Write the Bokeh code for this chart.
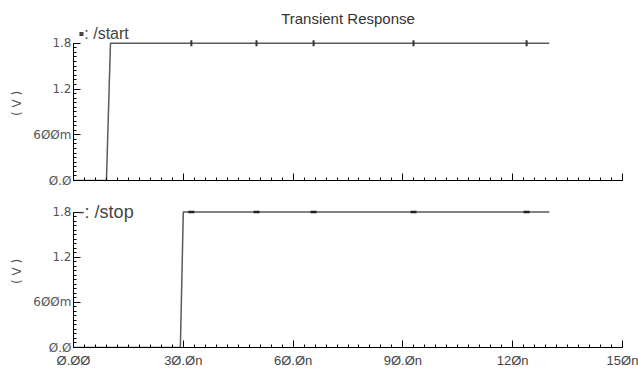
from bokeh.plotting import figure
from bokeh.layouts import column
from bokeh.models import FixedTicker, Label, Range1d, CustomLabelingPolicy
from bokeh.embed import file_html
from bokeh.resources import INLINE

# ---- data (time in ns, voltage in V) ----
t_start = [0.0, 9.0, 10.1, 130.0]
v_start = [0.0, 0.0, 1.8, 1.8]
t_stop = [0.0, 29.2, 30.0, 130.0]
v_stop = [0.0, 0.0, 1.8, 1.8]
marker_t = [32.2, 50.0, 65.6, 92.9, 123.8]
marker_v = [1.8, 1.8, 1.8, 1.8, 1.8]

x_ticks = [0, 30, 60, 90, 120, 150]
x_tick_labels = ["Ø.ØØ", "3Ø.Øn", "6Ø.Øn", "9Ø.Øn", "12Øn", "15Øn"]
y_ticks = [0.0, 0.6, 1.2, 1.8]
y_tick_labels = ["Ø.Ø", "6ØØm", "1.2", "1.8"]

title_text = "Transient Response"
y_label = "( V )"
sig_names = ["▪: /start", "-: /stop"]

LINE = "#5a5a5a"
TXT = "#555555"

HIDE_ALL = CustomLabelingPolicy(code="""
try {
  const n = indices.size;
  for (let i = 0; i < n; i++) { indices.set(i, false); }
} catch (e) {}
return indices;
""")


def style(p, show_xlabels):
    p.outline_line_color = None
    p.xgrid.visible = False
    p.ygrid.visible = False
    xa = p.xaxis[0]
    ya = p.yaxis[0]
    ya.bounds = (0, 1.8)
    xa.ticker = FixedTicker(ticks=x_ticks, minor_ticks=[i * 3 for i in range(51)])
    ya.ticker = FixedTicker(ticks=y_ticks, minor_ticks=[round(i * 0.06, 2) for i in range(31)])
    xa.major_label_overrides = {t: l for t, l in zip(x_ticks, x_tick_labels)}
    ya.major_label_overrides = {t: l for t, l in zip(y_ticks, y_tick_labels)}
    for a in (xa, ya):
        a.major_tick_in = 7
        a.major_tick_out = 0
        a.minor_tick_in = 3
        a.minor_tick_out = 0
    xa.major_label_text_font = "Liberation Sans"
    if show_xlabels:
        xa.major_label_text_font_size = "13px"
        xa.major_label_text_color = "#444444"
        xa.major_label_standoff = 5
    else:
        xa.major_label_text_font_size = "1px"
        xa.major_label_standoff = 0
        xa.major_label_policy = HIDE_ALL
    ya.major_label_text_font = "DejaVu Sans"
    ya.major_label_text_font_size = "12px"
    ya.major_label_text_color = TXT
    ya.major_label_standoff = 2
    ya.axis_label = y_label
    ya.axis_label_text_font = "DejaVu Sans"
    ya.axis_label_text_font_size = "12px"
    ya.axis_label_text_font_style = "normal"
    ya.axis_label_text_color = TXT
    ya.axis_label_standoff = 6


p1 = figure(width=638, height=195, output_backend="svg", toolbar_location=None,
            x_range=Range1d(0, 150), y_range=Range1d(0, 2.02),
            min_border_left=73, min_border_right=16, min_border_top=26, min_border_bottom=15)
p1.title.text = title_text
p1.title.align = "center"
p1.title.text_font = "Liberation Sans"
p1.title.text_font_size = "15px"
p1.title.text_font_style = "normal"
p1.title.text_color = "#333333"
p1.title.standoff = 0
style(p1, False)
p1.line(t_start, v_start, line_color=LINE, line_width=1.5)
p1.scatter(marker_t, marker_v, marker="dash", angle=1.5708, size=6, line_color="#333333", line_width=2)
p1.add_layout(Label(x=1.4, y=1.93, text=sig_names[0], text_font="Liberation Sans",
                    text_font_size="16px", text_color="#444444", text_baseline="alphabetic"))

p2 = figure(width=638, height=177, output_backend="svg", toolbar_location=None,
            x_range=Range1d(0, 150), y_range=Range1d(0, 2.02),
            min_border_left=73, min_border_right=16, min_border_top=0, min_border_bottom=25)
style(p2, True)
p2.line(t_stop, v_stop, line_color=LINE, line_width=1.5)
p2.scatter(marker_t, marker_v, marker="dash", size=6, line_color="#222222", line_width=2.5)
p2.add_layout(Label(x=1.4, y=1.805, text=sig_names[1], text_font="Liberation Sans",
                    text_font_size="18px", text_color="#444444", text_baseline="alphabetic"))

layout = column(p1, p2, spacing=0)
open("out.html", "w").write(file_html(layout, INLINE))
